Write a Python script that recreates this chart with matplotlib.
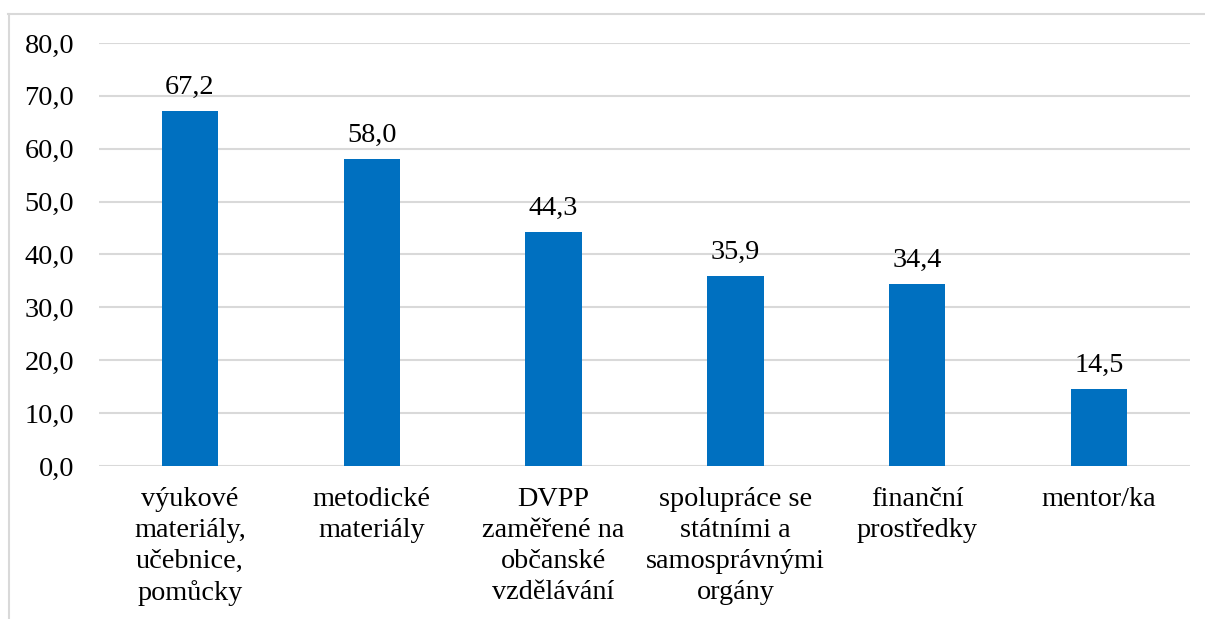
import matplotlib
matplotlib.use("Agg")
import matplotlib.pyplot as plt
from matplotlib.lines import Line2D

categories = ["výukové\nmateriály,\nučebnice,\npomůcky", "metodické\nmateriály",
              "DVPP\nzaměřené na\nobčanské\nvzdělávání",
              "spolupráce se\nstátními a\nsamosprávnými\norgány",
              "finanční\nprostředky", "mentor/ka"]
values = [67.2, 58.0, 44.3, 35.9, 34.4, 14.5]
yticks = [0, 10, 20, 30, 40, 50, 60, 70, 80]

plt.rcParams['font.family'] = ['Liberation Serif', 'DejaVu Serif']
FS = 20.3

fig = plt.figure(figsize=(12.05, 6.19), dpi=100)
ax = fig.add_axes([99/1205, 1-466/619, (1190-99)/1205, (466-43)/619])

x = list(range(len(categories)))
ax.bar(x, values, width=0.31, color='#0070C0', zorder=3)
ax.set_xlim(-0.5, len(categories)-0.5)
ax.set_ylim(0, 80)
ax.set_yticks(yticks)
ax.set_yticklabels([f"{v:.1f}".replace('.', ',') for v in yticks], fontsize=FS)
ax.set_xticks(x)
ax.set_xticklabels(categories, fontsize=FS, linespacing=1.32, va='top')
ax.tick_params(axis='both', length=0)
ax.tick_params(axis='x', pad=15)
ax.tick_params(axis='y', pad=18)
ax.grid(axis='y', color='#D9D9D9', linewidth=1.5, zorder=0)
for s in ax.spines.values():
    s.set_visible(False)

for xi, v in zip(x, values):
    ax.annotate(f"{v:.1f}".replace('.', ','), (xi, v), xytext=(0, 8),
                textcoords='offset points', ha='center', va='bottom', fontsize=FS)

# outer chart border (top and left visible)
fig.add_artist(Line2D([8/1205, 1], [1-14/619, 1-14/619], transform=fig.transFigure,
                      color='#D9D9D9', linewidth=1.5))
fig.add_artist(Line2D([9/1205, 9/1205], [0, 1-14/619], transform=fig.transFigure,
                      color='#D9D9D9', linewidth=1.5))

fig.savefig('out.png', dpi=100)
